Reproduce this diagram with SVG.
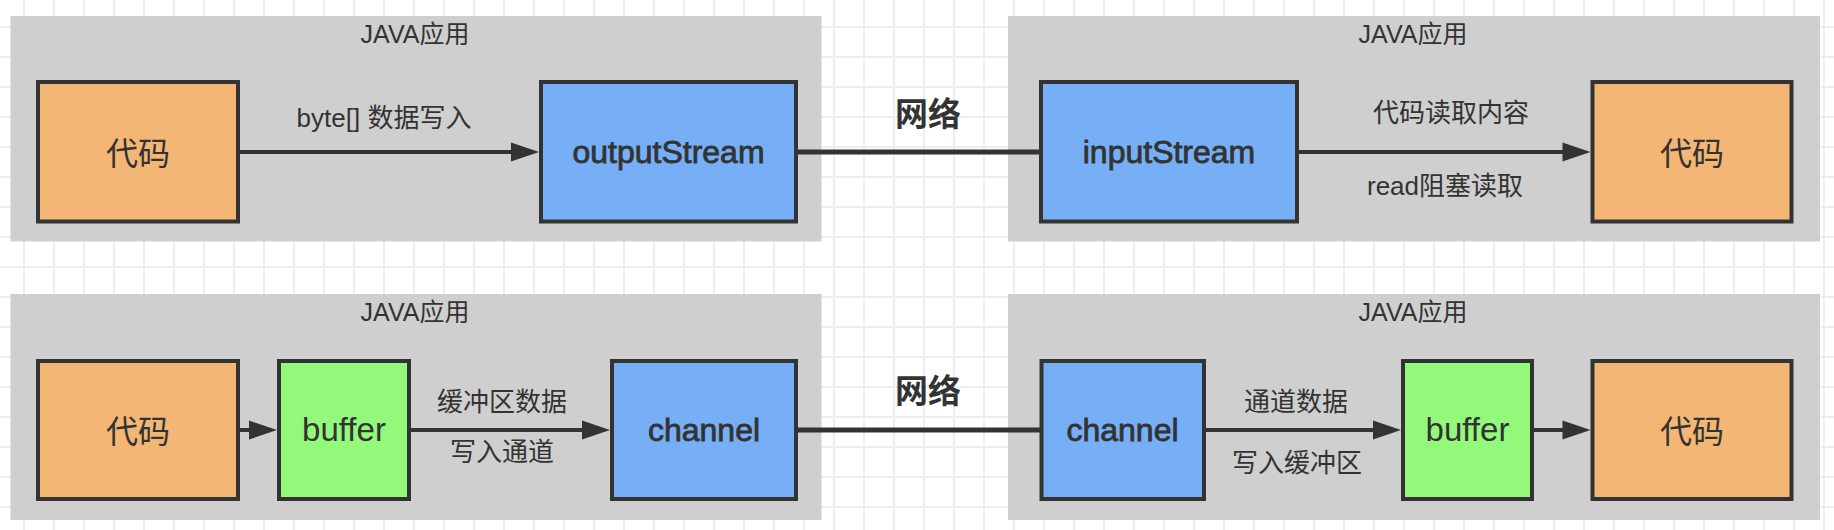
<svg xmlns="http://www.w3.org/2000/svg" width="1834" height="530" viewBox="0 0 1834 530">
  <style>
    .txt { font-family: "Liberation Sans", "Noto Sans CJK SC", sans-serif; fill: #333333; text-anchor: middle; }
    .grp { fill: #cfcfcf; }
    .box { stroke: #333333; stroke-width: 4; }
    .orange { fill: #f4b674; }
    .blue { fill: #76aff5; }
    .green { fill: #93f97a; }
    .glabel { font-size: 25px; }
    .elabel { font-size: 26px; }
    .cjk { font-size: 32px; }
    .bold { font-size: 32px; stroke: #333333; stroke-width: 0.8px; }
    .reg { font-size: 33px; }
    .net { font-size: 33px; font-weight: bold; }
    .edge { stroke: #333333; stroke-width: 4; fill: none; }
    .wire { stroke: #333333; stroke-width: 5; fill: none; }
    .head { fill: #333333; }
  </style>
  <defs>
    <pattern id="grid" x="23" y="26" width="30" height="30" patternUnits="userSpaceOnUse">
      <path d="M1 0V30M0 1H30" stroke="#eeeeee" stroke-width="2" fill="none"/>
    </pattern>
  </defs>
  <rect x="0" y="0" width="1834" height="530" fill="#ffffff"/>
  <rect x="0" y="0" width="1834" height="530" fill="url(#grid)"/>

  <!-- containers -->
  <g id="app-top-left">
    <rect class="grp" x="10.5" y="16" width="811" height="225.5"/>
    <text class="txt glabel" x="415" y="42.5">JAVA应用</text>
  </g>
  <g id="app-top-right">
    <rect class="grp" x="1008" y="16" width="812" height="225.5"/>
    <text class="txt glabel" x="1413" y="42.5">JAVA应用</text>
  </g>
  <g id="app-bottom-left">
    <rect class="grp" x="10.5" y="294" width="811" height="226"/>
    <text class="txt glabel" x="415" y="320.5">JAVA应用</text>
  </g>
  <g id="app-bottom-right">
    <rect class="grp" x="1008" y="294" width="812" height="226"/>
    <text class="txt glabel" x="1413" y="320.5">JAVA应用</text>
  </g>

  <!-- connectors -->
  <g id="connectors">
    <!-- top row -->
    <line class="edge" x1="240" y1="152" x2="512" y2="152"/>
    <polygon class="head" points="511,142.5 539,152 511,161.5"/>
    <line class="wire" x1="798" y1="152" x2="1040" y2="152"/>
    <line class="edge" x1="1298" y1="152" x2="1563" y2="152"/>
    <polygon class="head" points="1562.5,142.5 1590.5,152 1562.5,161.5"/>
    <!-- bottom row -->
    <line class="edge" x1="240" y1="430" x2="250" y2="430"/>
    <polygon class="head" points="249,420.5 277,430 249,439.5"/>
    <line class="edge" x1="411" y1="430" x2="583" y2="430"/>
    <polygon class="head" points="582,420.5 610,430 582,439.5"/>
    <line class="wire" x1="798" y1="430" x2="1040" y2="430"/>
    <line class="edge" x1="1206" y1="430" x2="1374" y2="430"/>
    <polygon class="head" points="1373,420.5 1401,430 1373,439.5"/>
    <line class="edge" x1="1534" y1="430" x2="1563" y2="430"/>
    <polygon class="head" points="1562.5,420.5 1590.5,430 1562.5,439.5"/>
    <!-- labels -->
    <text class="txt elabel" x="384" y="127">byte[] 数据写入</text>
    <text class="txt net" x="928" y="125.5">网络</text>
    <text class="txt elabel" x="1451" y="121.5">代码读取内容</text>
    <text class="txt elabel" x="1445" y="195">read阻塞读取</text>
    <text class="txt elabel" x="502" y="411">缓冲区数据</text>
    <text class="txt elabel" x="502" y="461">写入通道</text>
    <text class="txt net" x="928" y="403">网络</text>
    <text class="txt elabel" x="1296" y="411">通道数据</text>
    <text class="txt elabel" x="1297" y="472">写入缓冲区</text>
  </g>

  <!-- top row nodes -->
  <g id="code-top-left">
    <rect class="box orange" x="38" y="82" width="200" height="139.5"/>
    <text class="txt cjk" x="138" y="164.5">代码</text>
  </g>
  <g id="outputStream">
    <rect class="box blue" x="541" y="82" width="255" height="139.5"/>
    <text class="txt bold" x="668.5" y="163">outputStream</text>
  </g>
  <g id="inputStream">
    <rect class="box blue" x="1041" y="82" width="256" height="139.5"/>
    <text class="txt bold" x="1169" y="163">inputStream</text>
  </g>
  <g id="code-top-right">
    <rect class="box orange" x="1592.5" y="82" width="199" height="139.5"/>
    <text class="txt cjk" x="1692" y="164.5">代码</text>
  </g>

  <!-- bottom row nodes -->
  <g id="code-bottom-left">
    <rect class="box orange" x="38" y="361" width="200" height="138"/>
    <text class="txt cjk" x="138" y="442.5">代码</text>
  </g>
  <g id="buffer-left">
    <rect class="box green" x="279" y="361" width="130" height="138"/>
    <text class="txt reg" x="344" y="441">buffer</text>
  </g>
  <g id="channel-left">
    <rect class="box blue" x="612" y="361" width="184" height="138"/>
    <text class="txt bold" x="704" y="441">channel</text>
  </g>
  <g id="channel-right">
    <rect class="box blue" x="1041.5" y="361" width="162.5" height="138"/>
    <text class="txt bold" x="1122.5" y="441">channel</text>
  </g>
  <g id="buffer-right">
    <rect class="box green" x="1403" y="361" width="129" height="138"/>
    <text class="txt reg" x="1467.5" y="441">buffer</text>
  </g>
  <g id="code-bottom-right">
    <rect class="box orange" x="1592.5" y="361" width="199" height="138"/>
    <text class="txt cjk" x="1692" y="442.5">代码</text>
  </g>
</svg>
